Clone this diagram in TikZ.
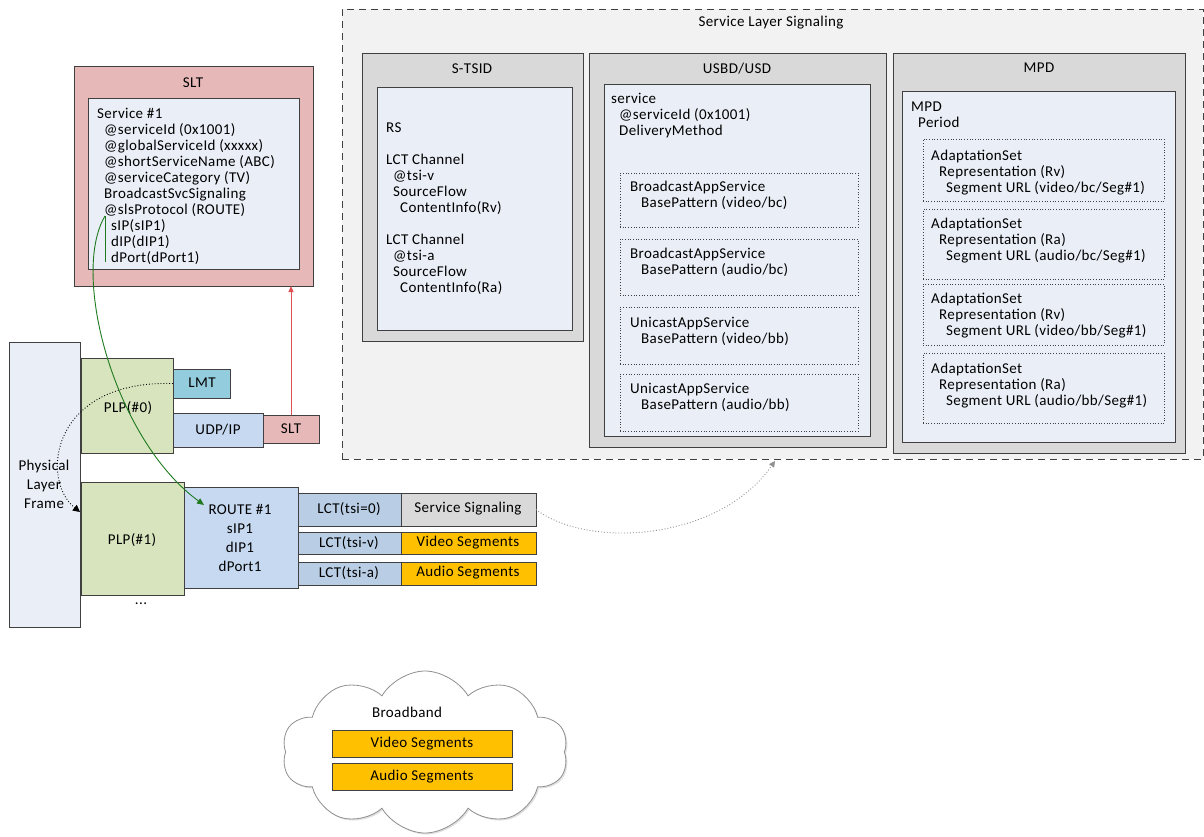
\documentclass[tikz,border=0pt]{standalone}
\usepackage{fontspec}
\setmainfont{Carlito}[LetterSpace=2.5]
\usetikzlibrary{shapes.symbols,arrows.meta,shadows}
\definecolor{edge}{HTML}{404040}
\definecolor{bgdash}{HTML}{F2F2F2}
\definecolor{grayf}{HTML}{D9D9D9}
\definecolor{innerf}{HTML}{EAEFF7}
\definecolor{pinkf}{HTML}{E6B9B8}
\definecolor{greenf}{HTML}{D7E4BD}
\definecolor{tealf}{HTML}{93CDDD}
\definecolor{bluef}{HTML}{C6D9F1}
\definecolor{lctf}{HTML}{B9CDE5}
\definecolor{orangef}{HTML}{FFC000}
\definecolor{redline}{HTML}{E05050}
\definecolor{greenline}{HTML}{1F7A1F}
\definecolor{dotgray}{HTML}{909090}
\tikzset{
  blk/.style={draw=edge, line width=0.9pt, anchor=north west, inner sep=0pt, outer sep=0pt},
  dbox/.style={draw=edge, dotted, line width=0.7pt, anchor=north west, inner sep=0pt, outer sep=0pt},
  txt/.style={anchor=north west, inner sep=0pt, align=left, font=\fontsize{15}{16}\selectfont},
  lbl/.style={inner sep=0pt, font=\fontsize{15}{16}\selectfont},
  cbox/.style={draw=edge, line width=0.9pt, inner sep=0pt, outer sep=0pt, font=\fontsize{15}{16}\selectfont},
}
\begin{document}
\begin{tikzpicture}[x=1pt,y=-1pt]
\useasboundingbox (0,0) rectangle (1204,836);
% Service Layer Signaling
\node[blk, fill=bgdash, dash pattern=on 7pt off 5pt, minimum width=861, minimum height=450] (sls) at (342,9) {};
\node[lbl] (slstitle) at (771,23) {Service Layer Signaling};
% S-TSID
\node[blk, fill=grayf, minimum width=221, minimum height=288] (stsid) at (362,53) {};
\node[lbl] (stsidtitle) at (472,69) {S-TSID};
\node[blk, fill=innerf, minimum width=195, minimum height=243] (stsidin) at (377,87) {};
\node[txt] (stsidtxt) at (386,121) {\strut RS\\\mbox{}\\LCT Channel\\\hspace*{7pt}@tsi-v\\\hspace*{7pt}SourceFlow\\\hspace*{14pt}ContentInfo(Rv)\\\mbox{}\\LCT Channel\\\hspace*{7pt}@tsi-a\\\hspace*{7pt}SourceFlow\\\hspace*{14pt}ContentInfo(Ra)};
% USBD/USD
\node[blk, fill=grayf, minimum width=297, minimum height=394] (usbd) at (589,53) {};
\node[lbl] (usbdtitle) at (737,69) {USBD/USD};
\node[blk, fill=innerf, minimum width=266, minimum height=352] (usbdin) at (604,84) {};
\node[txt] (usbdtxt) at (611,92) {\strut service\\\hspace*{8pt}@serviceId (0x1001)\\\hspace*{8pt}DeliveryMethod};
\node[dbox, minimum width=238, minimum height=54] (ub1) at (620,173) {};
\node[dbox, minimum width=238, minimum height=56] (ub2) at (620,239) {};
\node[dbox, minimum width=238, minimum height=57] (ub3) at (620,307) {};
\node[dbox, minimum width=238, minimum height=57] (ub4) at (620,374) {};
\node[txt] (ub1t) at (630,180) {\strut BroadcastAppService\\\hspace*{11pt}BasePattern (video/bc)};
\node[txt] (ub2t) at (630,247) {\strut BroadcastAppService\\\hspace*{11pt}BasePattern (audio/bc)};
\node[txt] (ub3t) at (630,316) {\strut UnicastAppService\\\hspace*{11pt}BasePattern (video/bb)};
\node[txt] (ub4t) at (630,382) {\strut UnicastAppService\\\hspace*{11pt}BasePattern (audio/bb)};
% MPD
\node[blk, fill=grayf, minimum width=292, minimum height=400] (mpd) at (893,53) {};
\node[lbl] (mpdtitle) at (1039,68) {MPD};
\node[blk, fill=innerf, minimum width=273, minimum height=351] (mpdin) at (902,91) {};
\node[txt] (mpdtxt) at (911,100) {\strut MPD\\\hspace*{7pt}Period};
\node[dbox, minimum width=241, minimum height=62] (mb1) at (923,139) {};
\node[dbox, minimum width=241, minimum height=70] (mb2) at (923,209) {};
\node[dbox, minimum width=241, minimum height=61] (mb3) at (923,284) {};
\node[dbox, minimum width=241, minimum height=70] (mb4) at (923,353) {};
\node[txt] (mb1t) at (931,149) {\strut AdaptationSet\\\hspace*{8pt}Representation (Rv)\\\hspace*{15pt}Segment URL (video/bc/Seg\#1)};
\node[txt] (mb2t) at (931,217) {\strut AdaptationSet\\\hspace*{8pt}Representation (Ra)\\\hspace*{15pt}Segment URL (audio/bc/Seg\#1)};
\node[txt] (mb3t) at (931,292) {\strut AdaptationSet\\\hspace*{8pt}Representation (Rv)\\\hspace*{15pt}Segment URL (video/bb/Seg\#1)};
\node[txt] (mb4t) at (931,362) {\strut AdaptationSet\\\hspace*{8pt}Representation (Ra)\\\hspace*{15pt}Segment URL (audio/bb/Seg\#1)};
% SLT
\node[blk, fill=pinkf, minimum width=239, minimum height=220] (slt) at (74,66) {};
\node[lbl] (slttitle) at (193,83) {SLT};
\node[blk, fill=innerf, minimum width=211, minimum height=171] (sltin) at (88,98) {};
\node[txt] (slttxt) at (97,107) {\strut Service \#1\\\hspace*{7pt}@serviceId (0x1001)\\\hspace*{7pt}@globalServiceId (xxxxx)\\\hspace*{7pt}@shortServiceName (ABC)\\\hspace*{7pt}@serviceCategory (TV)\\\hspace*{7pt}BroadcastSvcSignaling\\\hspace*{7pt}@slsProtocol (ROUTE)\\\hspace*{14pt}sIP(sIP1)\\\hspace*{14pt}dIP(dIP1)\\\hspace*{14pt}dPort(dPort1)};
% Physical layer
\node[blk, fill=innerf, minimum width=71, minimum height=285] (plf) at (9,342) {};
\node[lbl, align=center, font=\fontsize{15}{19}\selectfont] (plft) at (44,484) {Physical\\Layer\\Frame};
\node[blk, fill=greenf, minimum width=92, minimum height=95] (plp0) at (81,358) {};
\node[lbl] (plp0t) at (128,408) {PLP(\#0)};
\node[blk, fill=tealf, minimum width=57, minimum height=29] (lmt) at (173,369) {};
\node[lbl] (lmtt) at (202,383) {LMT};
\node[blk, fill=bluef, minimum width=90, minimum height=34] (udp) at (173,413) {};
\node[lbl] (udpt) at (218,430) {UDP/IP};
\node[blk, fill=pinkf, minimum width=56, minimum height=28] (sltsmall) at (263,415) {};
\node[lbl] (sltsmallt) at (291,429) {SLT};
\node[blk, fill=greenf, minimum width=103, minimum height=113] (plp1) at (81,482) {};
\node[lbl] (plp1t) at (132,540) {PLP(\#1)};
\node[lbl] (dots) at (141,604) {...};
\node[blk, fill=bluef, minimum width=114, minimum height=101] (route) at (184,487) {};
\node[lbl, align=center, font=\fontsize{15}{19}\selectfont] (routet) at (240,538) {ROUTE \#1\\sIP1\\dIP1\\dPort1};
% LCT rows
\node[blk, fill=lctf, minimum width=103, minimum height=33] (lct0) at (298,493) {};
\node[lbl] (lct0t) at (349,509) {LCT(tsi=0)};
\node[blk, fill=grayf, minimum width=135, minimum height=33] (sig) at (401,493) {};
\node[lbl] (sigt) at (468,509) {Service Signaling};
\node[blk, fill=lctf, minimum width=103, minimum height=22] (lctv) at (298,532) {};
\node[lbl] (lctvt) at (349,543) {LCT(tsi-v)};
\node[blk, fill=orangef, minimum width=135, minimum height=22] (vseg) at (401,532) {};
\node[lbl] (vsegt) at (468,543) {Video Segments};
\node[blk, fill=lctf, minimum width=103, minimum height=23] (lcta) at (298,562) {};
\node[lbl] (lctat) at (349,573) {LCT(tsi-a)};
\node[blk, fill=orangef, minimum width=135, minimum height=23] (aseg) at (401,562) {};
\node[lbl] (asegt) at (468,573) {Audio Segments};
% Broadband cloud
\node[cloud, cloud puffs=10, cloud puff arc=120, aspect=1.75, draw=dotgray, line width=0.8pt, fill=white, inner sep=0pt,
      minimum width=286, minimum height=162,
      drop shadow={opacity=0.25, shadow xshift=1.5pt, shadow yshift=-1.5pt}] (cloud) at (425,752) {};
\node[lbl] (bbt) at (407,712) {Broadband};
\node[cbox, fill=orangef, minimum width=180, minimum height=27] (bbv) at (422,744) {Video Segments};
\node[cbox, fill=orangef, minimum width=180, minimum height=27] (bba) at (422,777) {Audio Segments};
% connectors
\draw[redline, line width=1pt, -{Triangle[length=6pt,width=5pt]}] (sltsmall.north) -- (sltsmall.north |- slt.south);
\coordinate (gtop) at (105,216);
\coordinate (gbot) at (105,262);
\coordinate (gend) at (204,505);
\draw[greenline, line width=0.9pt] (gtop) -- (gbot);
\draw[greenline, line width=0.9pt, -{Triangle[length=7pt,width=6pt]}] (gtop) .. controls (70,275) and (115,440) .. (gend);
\coordinate (plfin) at (80,512);
\draw[black, dotted, line width=0.9pt, -{Triangle[length=7pt,width=7pt]}] (lmt.west) .. controls (50,380) and (40,480) .. (plfin);
\coordinate (slsin) at (775,461);
\draw[dotgray, dotted, line width=0.9pt, -{Triangle[length=6pt,width=6pt]}] (sig.east) .. controls (590,550) and (720,540) .. (slsin);
\end{tikzpicture}
\end{document}
